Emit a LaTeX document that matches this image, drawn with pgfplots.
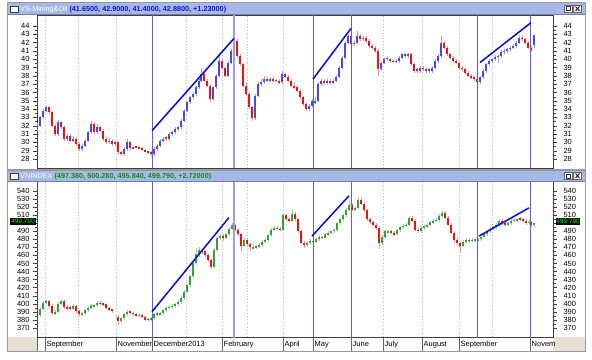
\documentclass[border=0pt]{standalone}
\usepackage{fontspec}
\setmainfont{Liberation Sans}
\usepackage{pgfplots}
\pgfplotsset{compat=1.18}
\usepackage{pgfplotstable}

\definecolor{upblue}{HTML}{4848F2}
\definecolor{upbluew}{HTML}{9C9CF8}
\definecolor{dnred}{HTML}{F21010}
\definecolor{dnredw}{HTML}{F89494}
\definecolor{upgreen}{HTML}{38A038}
\definecolor{upgreenw}{HTML}{94D494}
\definecolor{vline}{HTML}{5C5CF2}
\definecolor{vlinelight}{HTML}{9C9CF8}
\definecolor{trend}{HTML}{0808E8}
\definecolor{barbg}{HTML}{A6B8E8}
\definecolor{panelgray}{HTML}{9A9A9A}
\definecolor{stripgray}{HTML}{E4E0D8}
\definecolor{valblue}{HTML}{1414D2}
\definecolor{valgreen}{HTML}{0E8E0E}
\definecolor{gridc}{HTML}{BDBDBD}

\pgfplotstableread{
x o h l c
37 31.6 32.3 31.4 32.0
40 32.0 33.2 31.8 33.0
43 33.0 34.0 32.8 33.8
46 33.8 34.4 33.6 34.2
49 34.2 34.4 33.4 33.6
52 33.6 33.8 31.8 32.0
55 32.0 32.2 30.8 31.0
58 31.0 32.7 30.8 32.4
61 32.4 32.6 31.6 31.8
64 31.8 32.0 30.2 30.4
67 30.4 31.0 30.2 30.8
70 30.8 31.0 30.0 30.2
73 30.2 30.8 30.0 30.4
76 30.4 30.6 29.6 29.8
79 29.8 30.0 29.0 29.2
82 29.2 29.8 29.0 29.6
85 29.6 30.4 29.4 30.2
88 30.2 31.4 30.0 31.2
91 31.2 32.6 31.0 32.2
94 32.2 32.4 31.0 31.2
97 31.2 32.2 31.0 31.8
100 31.8 32.0 31.2 31.4
103 31.4 31.6 30.2 30.4
106 30.4 30.6 29.8 30.0
109 30.0 30.5 29.8 30.2
112 30.2 30.4 29.6 29.8
115 29.8 30.2 29.6 30.0
118 30.0 30.2 28.6 28.8
121 28.8 29.0 28.4 28.6
124 28.6 29.4 28.4 29.2
127 29.2 30.4 29.0 30.0
130 30.0 30.2 29.1 29.3
133 29.3 29.5 29.2 29.4
136 29.5 29.6 29.3 29.4
139 29.4 29.5 29.2 29.3
142 29.3 29.4 29.0 29.1
145 29.1 29.2 28.8 28.9
148 28.9 29.0 28.6 28.8
151 28.8 28.9 28.4 28.6
154 28.6 29.4 28.4 29.2
157 29.2 29.8 29.0 29.6
160 29.6 30.4 29.4 30.2
163 30.2 30.7 30.0 30.4
166 30.6 30.8 30.2 30.4
169 30.4 31.2 30.2 31.0
172 31.0 31.4 30.8 31.2
175 31.2 31.8 31.0 31.6
178 31.6 32.0 31.4 31.8
181 31.8 32.8 31.6 32.6
184 32.6 34.0 32.4 33.8
187 33.8 35.0 33.6 34.8
190 34.8 35.6 34.6 35.4
193 35.4 36.0 35.2 35.8
196 35.8 36.8 35.6 36.6
199 36.6 37.6 36.4 37.4
201 37.4 39.0 37.2 38.2
204 38.2 38.4 37.2 37.4
207 37.4 37.6 36.6 36.8
210 36.8 37.0 34.8 35.2
213 35.2 36.8 35.0 36.6
216 36.6 38.2 36.4 38.0
219 38.0 40.8 37.8 39.8
222 39.8 40.0 38.8 39.0
225 39.0 39.2 37.8 38.0
228 38.0 39.8 37.8 39.6
231 39.6 41.2 39.4 41.0
234 41.0 42.8 40.8 42.2
237 42.2 42.4 40.2 40.4
240 40.4 40.6 39.2 39.4
243 39.4 39.6 36.6 36.8
246 36.8 37.2 35.6 35.8
249 35.8 36.0 34.0 34.2
252 34.2 34.4 32.6 32.9
255 32.9 35.8 32.7 35.6
258 35.6 37.2 35.4 37.0
261 37.0 37.6 36.8 37.2
264 37.2 38.0 37.0 37.6
267 37.6 37.8 37.2 37.4
270 37.4 37.8 37.2 37.6
273 37.6 37.8 37.3 37.5
276 37.5 37.6 37.2 37.4
279 37.4 37.6 37.0 37.2
282 37.2 38.6 37.0 38.2
285 38.2 38.4 37.7 37.9
288 37.9 38.1 37.2 37.4
291 37.4 37.6 36.6 36.8
294 36.8 37.2 36.4 36.6
297 36.6 36.8 36.0 36.2
300 36.2 36.4 35.2 35.4
303 35.4 35.6 34.4 34.6
306 34.6 34.8 33.8 34.0
309 34.0 34.6 33.8 34.4
312 34.4 35.2 34.2 35.0
315 34.8 35.4 34.6 35.0
318 35.0 37.2 34.8 37.0
321 37.0 37.6 36.8 37.4
324 37.4 37.6 37.0 37.2
327 37.2 37.6 37.0 37.4
330 37.4 37.6 37.0 37.2
333 37.2 37.6 37.0 37.4
336 37.4 38.1 37.2 37.9
339 37.9 39.2 37.7 39.0
342 39.0 40.4 38.8 40.2
345 40.2 42.2 40.0 42.0
348 42.0 43.0 41.8 42.8
351 42.8 43.0 41.6 41.8
354 41.8 42.2 41.6 42.0
357 42.0 43.4 41.8 42.8
360 42.8 43.0 42.2 42.4
363 42.4 42.8 42.2 42.6
366 42.6 42.8 42.0 42.2
369 42.2 42.4 41.4 41.6
372 41.6 41.8 41.2 41.4
375 41.4 41.6 40.8 41.0
378 41.0 41.2 38.0 38.8
381 38.8 39.8 38.6 39.6
384 39.6 40.2 39.4 40.0
387 40.2 40.4 39.8 40.0
390 40.0 40.2 39.6 39.8
393 39.8 40.0 39.5 39.7
396 39.7 40.0 39.5 39.8
399 39.8 40.4 39.6 40.2
402 40.2 40.8 40.0 40.6
405 40.6 40.8 40.2 40.4
408 40.4 40.8 40.2 40.6
411 40.6 40.8 39.2 39.4
414 39.4 39.6 38.4 38.6
417 38.8 38.9 38.4 38.6
420 38.6 39.2 38.4 39.0
423 39.0 39.2 38.6 38.8
426 38.6 39.0 38.4 38.8
429 38.8 39.0 38.4 38.6
432 38.6 39.2 38.4 39.0
435 39.0 40.0 38.8 39.8
438 39.8 40.6 39.6 40.4
441 40.4 42.8 40.2 42.0
444 42.0 42.2 41.2 41.4
447 41.4 41.6 40.4 40.6
450 40.6 40.8 40.0 40.2
453 40.2 40.4 39.6 39.8
456 39.8 40.0 39.4 39.6
459 39.6 39.8 38.8 39.0
462 39.0 39.2 38.6 38.8
465 38.8 39.0 38.2 38.4
468 38.4 38.6 37.8 38.0
471 38.0 38.2 37.6 37.8
474 37.8 38.0 37.4 37.6
477 37.6 37.8 36.9 37.2
480 37.2 38.0 37.0 37.8
483 37.8 38.8 37.6 38.6
486 38.6 39.6 38.4 39.4
489 39.4 40.0 39.2 39.8
492 39.8 40.2 39.6 40.0
495 40.0 40.5 39.8 40.3
498 40.3 40.6 39.6 40.4
501 40.4 41.1 40.2 40.9
504 40.9 41.2 40.6 41.0
507 41.0 41.4 40.8 41.2
510 41.2 41.6 41.0 41.4
513 41.4 41.8 41.2 41.6
516 41.6 42.2 41.4 42.0
519 42.0 42.8 41.8 42.6
522 42.6 42.8 42.2 42.4
525 42.4 42.6 41.8 42.0
528 42.0 42.2 41.2 41.4
531 41.4 41.6 40.9 41.1
534 41.65 42.9 41.4 42.88
}\topdata

\pgfplotstableread{
x o h l c
37 382 388 380 386
40 386 396 384 394
43 394 403 392 401
46 401 406 399 403
49 403 404 395 397
52 397 399 386 388
55 388 392 386 390
58 390 402 388 400
61 400 406 398 403
64 403 404 394 396
67 396 398 392 394
70 395 397 392 394
73 394 399 392 397
76 397 398 389 391
79 391 392 385 387
82 387 390 385 388
85 388 394 386 392
88 392 397 390 395
91 395 400 393 398
94 397 400 396 398
97 398 403 396 401
100 401 403 398 400
103 400 401 397 399
106 399 400 393 395
109 395 396 391 393
112 393 394 389 391
118 384 386 374 378
121 378 384 376 382
124 382 389 380 387
127 387 392 385 390
130 390 391 387 389
133 389 390 385 387
136 387 388 384 386
139 385 388 384 386
142 386 387 382 384
145 384 385 378 380
148 381 382 378 380
151 380 384 378 382
154 382 389 380 387
157 387 390 385 388
160 387 390 386 388
163 388 394 386 392
166 392 397 390 395
169 395 398 393 396
172 396 399 394 397
175 397 401 395 399
178 399 404 397 402
181 402 409 400 407
184 407 417 405 415
187 415 425 413 423
190 423 436 421 434
193 434 452 432 450
196 450 469 448 462
199 462 470 458 467
202 467 469 462 465
205 465 467 458 460
208 460 462 452 454
211 454 456 443 446
214 446 469 444 467
217 467 483 465 481
220 481 487 479 484
223 484 486 478 482
226 482 488 480 486
229 486 495 484 493
232 493 500 491 498
235 498 499 490 492
238 492 494 484 486
241 486 488 465 472
244 472 481 470 479
247 479 480 471 474
250 474 476 466 470
253 469 473 468 470
256 470 473 468 471
259 471 475 469 473
262 473 479 471 477
265 477 481 475 479
268 479 487 477 485
271 485 494 483 492
274 492 496 490 494
277 494 497 491 493
280 493 495 490 492
283 492 512 490 510
286 510 512 503 505
289 505 507 501 503
292 503 518 501 512
295 512 514 503 505
298 505 507 488 490
301 490 492 474 476
304 476 478 469 473
307 473 477 471 475
310 475 480 473 478
313 478 479 475 477
316 477 482 475 480
319 480 485 478 483
322 483 484 480 482
325 482 488 480 486
328 486 490 484 488
331 488 492 486 490
334 490 494 488 492
337 492 502 490 500
340 500 507 498 505
343 505 512 503 510
346 510 519 508 517
349 517 527 515 523
352 523 525 515 517
355 517 521 515 519
358 519 533 517 529
361 529 531 522 524
364 524 526 514 516
367 516 518 503 505
370 505 507 499 501
373 501 503 496 498
376 498 500 492 494
379 494 496 468 475
382 475 485 473 483
385 483 492 481 490
388 489 492 488 490
391 490 492 486 488
394 488 490 484 486
397 486 493 484 491
400 491 497 489 495
403 495 499 493 497
406 497 500 495 498
409 498 509 496 507
412 507 509 501 503
415 503 505 490 492
418 492 494 488 490
421 490 496 488 494
424 494 498 492 496
427 496 500 494 498
430 498 503 496 501
433 501 505 499 503
436 503 506 501 504
439 504 511 502 509
442 509 515 507 513
445 513 515 505 507
448 507 509 496 498
451 498 500 486 488
454 488 490 477 479
457 479 481 473 475
460 475 477 463 472
463 472 479 470 477
466 477 481 475 479
469 479 481 476 478
472 478 481 476 479
475 479 482 477 480
478 479 482 478 480
481 480 485 478 483
484 483 488 481 486
487 486 492 484 490
490 490 495 488 493
493 493 497 491 495
496 495 500 493 498
499 498 505 496 503
502 503 505 498 500
505 500 502 496 498
508 498 502 496 500
511 500 505 498 503
514 503 506 501 504
517 504 507 502 505
520 506 508 503 505
523 505 507 501 503
526 503 505 498 500
529 500 504 498 502
531 502 503 495 497.4
534 497.38 500.28 495.84 499.79
}\botdata

\pgfplotsset{
  panel/.style={scale only axis, width=516bp, xmin=37, xmax=553,
    axis line style={black!75}, tick style={black!75}, clip=true,
    tick label style={font=\fontsize{7.5}{8}\selectfont},
    /pgf/number format/assume math mode=true,
    tick align=outside, major tick length=4bp, minor tick length=2.5bp},
  wickst/.style={draw=none, mark=none, forget plot,
    error bars/y dir=both, error bars/y explicit, error bars/error mark=none,
    error bars/error bar style={draw=#1, line width=0.8bp}},
  bodyst/.style={draw=none, mark=none, forget plot,
    error bars/y dir=both, error bars/y explicit, error bars/error mark=none,
    error bars/error bar style={draw=#1, line width=2bp}},
  vl/.style={draw=vline, line width=0.8bp, forget plot},
  tr/.style={draw=trend, line width=1.5bp, forget plot},
  gl/.style={draw=gridc, line width=0.5bp, dash pattern=on 1bp off 1.8bp, forget plot},
  monthgrid/.style={major grid style={draw=gridc, line width=0.5bp, dash pattern=on 1bp off 1.8bp}},
  botlabels/.style={yticklabels={370,380,390,400,410,420,430,440,450,460,470,480,490,{},510,520,530,540}},
}

\begin{document}
\begin{tikzpicture}[x=1bp,y=1bp]
\useasboundingbox (0,0) rectangle (592,359);
\fill[white] (0,0) rectangle (592,359);
\fill[stripgray] (8,8) rectangle (37,22);
\fill[stripgray] (553,8) rectangle (585,22);

% ---------------- top panel ----------------
\begin{axis}[panel, at={(37bp,191bp)}, anchor=south west, height=153bp,
  ymin=26.91, ymax=45.32,
  ytick={28,29,...,44}, minor y tick num=1, ytick pos=left, yticklabel pos=left,
  xtick={45,78,116,152,186,222,247,283,313,351,383,422,459,492,530},
  xticklabels={}, xtick style={draw=none}, xmajorgrids, monthgrid, xtick pos=bottom]
  \addplot[wickst=upbluew, restrict expr to domain={\thisrow{c}-\thisrow{o}}{0:1000}]
    table[x=x, y expr={(\thisrow{h}+\thisrow{l})/2}, y error expr={(\thisrow{h}-\thisrow{l})/2}] {\topdata};
  \addplot[wickst=dnredw, restrict expr to domain={\thisrow{c}-\thisrow{o}}{-1000:-0.0001}]
    table[x=x, y expr={(\thisrow{h}+\thisrow{l})/2}, y error expr={(\thisrow{h}-\thisrow{l})/2}] {\topdata};
  \addplot[bodyst=upblue, restrict expr to domain={\thisrow{c}-\thisrow{o}}{0:1000}]
    table[x=x, y expr={(\thisrow{o}+\thisrow{c})/2}, y error expr={max(abs(\thisrow{c}-\thisrow{o})/2,0.07)}] {\topdata};
  \addplot[bodyst=dnred, restrict expr to domain={\thisrow{c}-\thisrow{o}}{-1000:-0.0001}]
    table[x=x, y expr={(\thisrow{o}+\thisrow{c})/2}, y error expr={max(abs(\thisrow{c}-\thisrow{o})/2,0.07)}] {\topdata};
  \addplot[vl] coordinates {(152,20) (152,50)};
  \addplot[vl, draw=vlinelight, line width=1.6bp] coordinates {(234,20) (234,50)};
  \addplot[vl] coordinates {(313,20) (313,50)};
  \addplot[vl] coordinates {(351,20) (351,50)};
  \addplot[vl] coordinates {(477,20) (477,50)};
  \addplot[vl] coordinates {(530,20) (530,50)};
  \addplot[tr] coordinates {(152,31.4) (234,42.5)};
  \addplot[tr] coordinates {(313,37.6) (351,43.7)};
  \addplot[tr] coordinates {(480,39.6) (531,44.4)};
\end{axis}
\begin{axis}[panel, at={(37bp,191bp)}, anchor=south west, height=153bp,
  ymin=26.91, ymax=45.32, axis x line=none, axis y line*=right,
  ytick={28,29,...,44}, minor y tick num=1, tick align=outside,
  yticklabel style={anchor=west, xshift=3bp}]
\end{axis}

% ---------------- bottom panel ----------------
\begin{axis}[panel, at={(37bp,22bp)}, anchor=south west, height=156bp,
  ymin=358.6, ymax=552.4, ytick=\empty,
  xtick={37,45,116,152,222,283,313,351,383,422,459,530},
  xticklabels={{},September,November,December2013,February,April,May,June,July,August,September,Novem},
  xtick pos=bottom, major tick length=14bp, xtick style={draw=black!60},
  xticklabel style={anchor=north west, inner sep=0pt, xshift=1.5bp, yshift=10bp},
  xmajorgrids, monthgrid]
  \addplot[gl] coordinates {(78,300) (78,600)};
  \addplot[gl] coordinates {(186,300) (186,600)};
  \addplot[gl] coordinates {(247,300) (247,600)};
  \addplot[gl] coordinates {(492,300) (492,600)};
  \addplot[wickst=upgreenw, restrict expr to domain={\thisrow{c}-\thisrow{o}}{0:1000}]
    table[x=x, y expr={(\thisrow{h}+\thisrow{l})/2}, y error expr={(\thisrow{h}-\thisrow{l})/2}] {\botdata};
  \addplot[wickst=dnredw, restrict expr to domain={\thisrow{c}-\thisrow{o}}{-1000:-0.0001}]
    table[x=x, y expr={(\thisrow{h}+\thisrow{l})/2}, y error expr={(\thisrow{h}-\thisrow{l})/2}] {\botdata};
  \addplot[bodyst=upgreen, restrict expr to domain={\thisrow{c}-\thisrow{o}}{0:1000}]
    table[x=x, y expr={(\thisrow{o}+\thisrow{c})/2}, y error expr={max(abs(\thisrow{c}-\thisrow{o})/2,0.8)}] {\botdata};
  \addplot[bodyst=dnred, restrict expr to domain={\thisrow{c}-\thisrow{o}}{-1000:-0.0001}]
    table[x=x, y expr={(\thisrow{o}+\thisrow{c})/2}, y error expr={max(abs(\thisrow{c}-\thisrow{o})/2,0.8)}] {\botdata};
  \addplot[vl] coordinates {(152,300) (152,600)};
  \addplot[vl, draw=vlinelight, line width=1.6bp] coordinates {(234,300) (234,600)};
  \addplot[vl] coordinates {(313,300) (313,600)};
  \addplot[vl] coordinates {(351,300) (351,600)};
  \addplot[vl] coordinates {(477,300) (477,600)};
  \addplot[vl] coordinates {(530,300) (530,600)};
  \addplot[tr] coordinates {(152,390) (229,507)};
  \addplot[tr] coordinates {(312,484) (349,534)};
  \addplot[tr] coordinates {(479,484) (529,519)};
\end{axis}
\begin{axis}[panel, at={(37bp,22bp)}, anchor=south west, height=156bp,
  ymin=358.6, ymax=552.4, axis x line=none, axis y line*=left,
  ytick={370,380,...,540}, botlabels, minor y tick num=1, tick align=outside,
  yticklabel style={anchor=east}]
\end{axis}
\begin{axis}[panel, at={(37bp,22bp)}, anchor=south west, height=156bp,
  ymin=358.6, ymax=552.4, axis x line=none, axis y line*=right,
  ytick={370,380,...,540}, botlabels, minor y tick num=1, tick align=outside,
  yticklabel style={anchor=west, xshift=3bp}]
\end{axis}

% ---------------- frames and title bars ----------------
\draw[panelgray, line width=0.7bp] (7.5,7.5) rectangle (585.5,188.5);
\draw[panelgray, line width=0.7bp] (7.5,189.5) rectangle (585.5,356.5);

\fill[barbg] (8,345) rectangle (585,356);
\draw[barbg!70!black, line width=0.5bp] (8,345) -- (585,345);
\fill[barbg] (8,178) rectangle (585,188);
\draw[barbg!70!black, line width=0.5bp] (8,178) -- (585,178);

% window icons
\foreach \yy in {347,180} {
  \draw[black!75, fill=white, line width=0.5bp] (10,\yy) rectangle (18,\yy+6);
  \draw[black!75, line width=1.2bp] (10,\yy+5.4) -- (18,\yy+5.4);
  \draw[black!60, fill=black!5, line width=0.5bp] (564,\yy-0.5) rectangle (572,\yy+7);
  \draw[black!80, line width=0.6bp] (566,\yy+1.2) rectangle (570,\yy+5.2);
  \draw[black!60, fill=black!5, line width=0.5bp] (573.5,\yy-0.5) rectangle (581.5,\yy+7);
  \draw[black!85, line width=0.9bp] (575.5,\yy+1) -- (579.5,\yy+5.5) (575.5,\yy+5.5) -- (579.5,\yy+1);
}

% titles
\node[anchor=base west, inner sep=0pt, font=\fontsize{7.3}{8}\selectfont] at (20,348)
  {\textcolor{white}{VS-Mining\&Oil} \textcolor{valblue}{\bfseries(41.6500, 42.9000, 41.4000, 42.8800, +1.23000)}};
\node[anchor=base west, inner sep=0pt, font=\fontsize{7.3}{8}\selectfont] at (20,181)
  {\textcolor{white}{VNINDEX} \textcolor{valgreen}{\bfseries(497.380, 500.280, 495.840, 499.790, +2.72000)}};

% last value boxes
\node[fill=black, text=green, font=\fontsize{6.5}{7}\selectfont, inner sep=0pt, minimum width=26bp, minimum height=7.5bp] at (23,137.5) {499.790};
\node[fill=black, text=green, font=\fontsize{6.5}{7}\selectfont, inner sep=0pt, minimum width=24bp, minimum height=7.5bp] at (568,137.5) {499.790};
\end{tikzpicture}
\end{document}
